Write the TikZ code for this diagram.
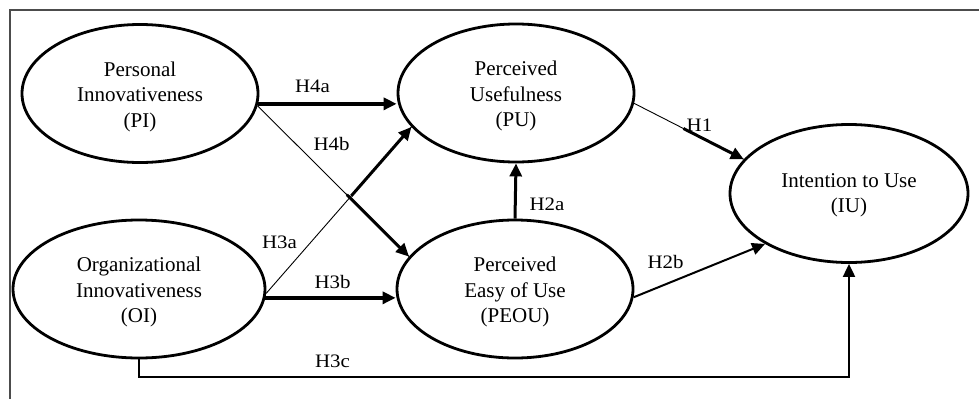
\documentclass[tikz,border=0pt]{standalone}
\usepackage{fontspec}
\setmainfont{Liberation Serif}
\newfontfamily\lblfont{Liberation Serif}[FakeStretch=1.1]
\usetikzlibrary{arrows.meta,shapes.geometric,calc}
\begin{document}
\begin{tikzpicture}[x=1pt,y=-1pt]
\tikzset{
  construct/.style={ellipse, draw, line width=2.8pt, minimum width=236pt, minimum height=138pt,
    inner sep=0pt},
  ctext/.style={align=center, font=\fontsize{21}{25.5}\selectfont, inner sep=0pt},
  hlabel/.style={font=\lblfont\fontsize{19}{25}\selectfont, inner sep=0pt},
  tip/.style={-{Triangle[length=13pt,width=12pt]}},
  thinline/.style={line width=0.9pt},
  thickline/.style={line width=3pt},
  medline/.style={line width=2pt},
  frameline/.style={line width=1.5pt, draw=black!70}
}
\useasboundingbox (0,0) rectangle (979,399);
% frame (top and left edges only)
\coordinate (fTR) at (979,10);
\coordinate (fTL) at (10,10);
\coordinate (fBL) at (10,399);
\draw[frameline] (fTR) -- (fTL) -- (fBL);

% constructs
\node[construct] (PI) at (140,93.5) {};
\node[construct] (PU) at (516,93) {};
\node[construct, minimum width=252pt] (OI) at (139,289) {};
\node[construct] (PEOU) at (515,289) {};
\node[construct, minimum width=238pt] (IU) at (849,193.5) {};

\node[ctext] (tPI) at ([yshift=-3pt]PI.center) {Personal\\Innovativeness\\(PI)};
\node[ctext] (tPU) at ([yshift=-3pt]PU.center) {Perceived\\Usefulness\\(PU)};
\node[ctext] (tOI) at ([yshift=-3pt]OI.center) {Organizational\\Innovativeness\\(OI)};
\node[ctext] (tPEOU) at ([yshift=-3pt]PEOU.center) {Perceived\\Easy of Use\\(PEOU)};
\node[ctext] (tIU) at ([yshift=-2pt]IU.center) {Intention to Use\\(IU)};

% H4a
\draw[thickline, line width=3.8pt, tip] (PI.-5) -- (PI.-5 -| PU.west);
% H4b
\draw[thinline] (PI.-6) -- (PEOU.163);
\draw[thickline, tip] ($(PI.-6)!0.59!(PEOU.163)$) -- (PEOU.163);
% H3a
\draw[thinline] (OI.-2) -- (PU.198);
\draw[thickline, tip] ($(OI.-2)!0.586!(PU.198)$) -- (PU.198);
% H3b
\draw[thickline, line width=3.8pt, tip] (OI.-4) -- (OI.-4 -| PEOU.west);
% H2a
\draw[thickline, tip] (PEOU.north) -- (PU.south);
% H1
\draw[thinline] (PU.-5) -- (IU.162);
\draw[thickline, tip] ($(PU.-5)!0.45!(IU.162)$) -- (IU.162);
% H2b
\draw[medline, tip] (PEOU.-4) -- (IU.211);
% H3c
\draw[medline, tip] (OI.south) -- ++(0,18) -| (IU.south);

% labels
\node[hlabel] (lH4a) at (312.5,86) {H4a};
\node[hlabel] (lH4b) at (331.5,144) {H4b};
\node[hlabel] (lH3a) at (279.5,242) {H3a};
\node[hlabel] (lH3b) at (332.5,281.5) {H3b};
\node[hlabel] (lH2a) at (547,204) {H2a};
\node[hlabel] (lH1) at (699.5,125) {H1};
\node[hlabel] (lH2b) at (665.5,262) {H2b};
\node[hlabel] (lH3c) at (332.5,361.5) {H3c};
\end{tikzpicture}
\end{document}
